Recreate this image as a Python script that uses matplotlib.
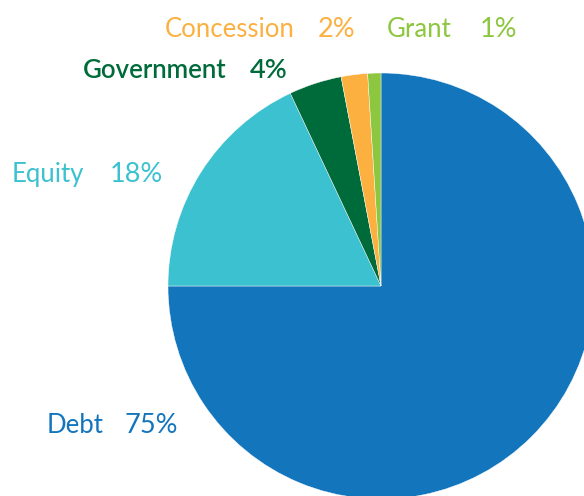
import matplotlib.pyplot as plt

# funding sources, share of total (%)
sources = ['Debt', 'Equity', 'Government', 'Concession', 'Grant']
shares = [75, 18, 4, 2, 1]
colors = ['#1375bc', '#3bc1cf', '#006b3a', '#fbb040', '#8dc63f']

W, H = 584, 496
fig = plt.figure(figsize=(W / 100, H / 100), dpi=100)
ax = fig.add_axes([0, 0, 1, 1])

ax.pie(shares, colors=colors, startangle=90, counterclock=False,
       center=(381, H - 286), radius=213, frame=True,
       wedgeprops=dict(edgecolor='white', linewidth=0.3))

ax.set_xlim(0, W)
ax.set_ylim(0, H)
ax.set_aspect('equal')
ax.axis('off')

# label anchors: (name x, value x, baseline y from top)
spots = {
    'Debt': (47, 125, 433),
    'Equity': (12, 110, 182),
    'Government': (83, 250, 78),
    'Concession': (165, 318, 37),
    'Grant': (387, 480, 37),
}
for name, val, col in zip(sources, shares, colors):
    x1, x2, y = spots[name]
    wt = 'semibold' if name == 'Government' else 'normal'
    ax.text(x1, H - y, name, color=col, fontsize=18.5, family='Lato',
            fontweight=wt, va='baseline', ha='left')
    ax.text(x2, H - y, f'{val}%', color=col, fontsize=19.5, family='Lato',
            fontweight=wt, va='baseline', ha='left')

fig.savefig('out.png', dpi=100)
